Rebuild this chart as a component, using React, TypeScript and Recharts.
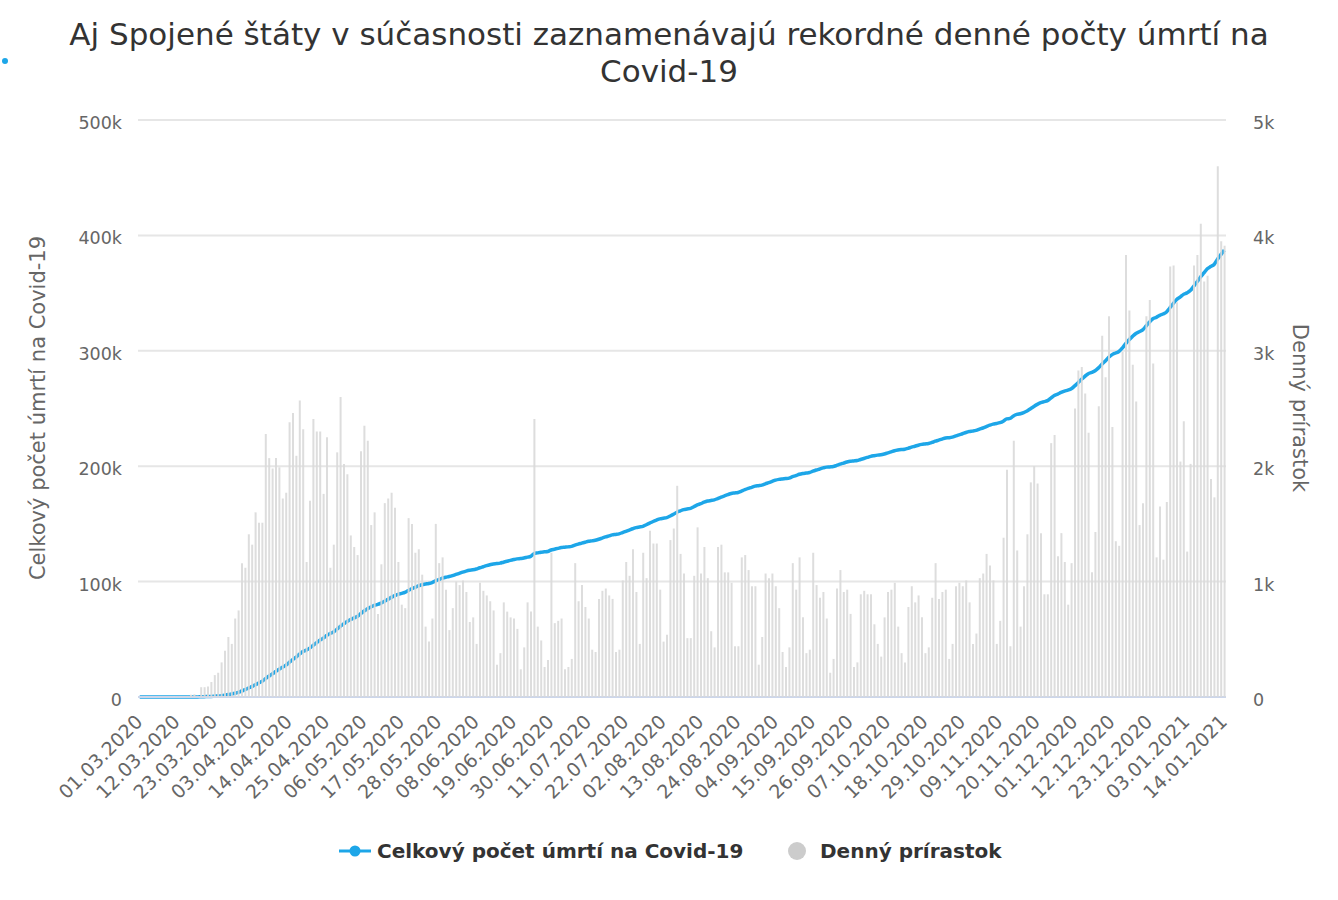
import React from 'react';
import { ComposedChart, Bar, Line, XAxis, YAxis, CartesianGrid } from 'recharts';

// Daily deaths (Denný prírastok), 01.03.2020 – 14.01.2021
const dailyDeaths: number[] = [
  1, 1, 3, 2, 1, 2, 3, 4, 1, 5, 7, 4, 7, 7, 9, 20, 23, 10,
  85, 85, 90, 130, 190, 210, 300, 400, 520, 460, 680, 750,
  1160, 1120, 1410, 1320, 1600, 1510, 1510, 2280, 2070, 1980, 2070, 1990, 1720, 1770,
  2380, 2460, 2090, 2570, 2320, 1170, 1700, 2410, 2300, 2300, 1760, 2250, 1120, 1320,
  2120, 2600, 2020, 1930, 1400, 1300, 1230, 2130, 2350, 2220, 1490, 1600, 720, 1150,
  1680, 1720, 1770, 1640, 1170, 800, 770, 1550, 1500, 1250, 1280, 1060, 610, 480,
  680, 1500, 1160, 1210, 930, 580, 770, 1000, 970, 1010, 910, 650, 690, 460,
  990, 920, 880, 830, 750, 280, 380, 820, 740, 690, 680, 590, 240, 430,
  820, 740, 2410, 610, 490, 260, 320, 1250, 640, 660, 680, 240, 260, 330,
  1160, 830, 970, 780, 680, 410, 390, 850, 920, 940, 880, 850, 390, 410,
  1010, 1170, 1050, 1280, 910, 460, 1250, 1030, 1440, 1330, 1330, 930, 480, 540,
  1360, 1460, 1830, 1240, 1070, 510, 510, 1050, 1470, 1070, 1300, 1030, 570, 430,
  1300, 1320, 1080, 1080, 990, 440, 440, 1210, 1230, 1100, 960, 960, 280, 520,
  1070, 1030, 1070, 960, 770, 390, 260, 430, 1160, 930, 1210, 690, 380, 410,
  1250, 970, 860, 910, 680, 210, 330, 940, 1100, 910, 930, 720, 260, 300,
  890, 920, 890, 890, 630, 460, 350, 690, 910, 930, 990, 610, 380, 300,
  780, 960, 820, 880, 690, 380, 430, 860, 1160, 850, 910, 930, 330, 460,
  960, 990, 960, 1010, 820, 460, 550, 1030, 1070, 1240, 1140, 1010, 460, 660,
  1380, 1970, 440, 2220, 1270, 610, 960, 1410, 1860, 2000, 1850, 1420, 890, 890,
  2200, 2270, 1220, 1420, 1170, 800, 1160, 2500, 2830, 2860, 2630, 2290, 1080, 1430,
  2520, 3130, 2770, 3300, 2340, 1350, 1310, 2990, 3830, 3350, 2880, 2560, 1490, 1680,
  3300, 3440, 2890, 1210, 1650, 1190, 1690, 3730, 3740, 3420, 2040, 2390, 1260, 2020,
  3740, 3830, 4100, 3600, 3650, 1890, 1730, 4600, 3950, 3910,
];

// Cumulative deaths in thousands (Celkový počet úmrtí na Covid-19)
const totalDeathsK: number[] = [
  0, 0, 0, 0, 0, 0, 0, 0, 0, 0, 0, 0, 0.1, 0.1, 0.1, 0.1, 0.1, 0.1,
  0.2, 0.3, 0.4, 0.5, 0.7, 0.9, 1.2, 1.6, 2.1, 2.6, 3.3, 4.0,
  5.2, 6.3, 7.7, 9.0, 10.6, 12.1, 13.6, 15.9, 18.0, 20.0, 22.1, 24.1, 25.8, 27.6,
  30.0, 32.4, 34.5, 37.1, 39.4, 40.6, 42.3, 44.7, 47.0, 49.3, 51.0, 53.3, 55.0, 56.4,
  58.7, 61.3, 63.4, 65.5, 67.2, 68.5, 69.7, 72.2, 74.5, 76.5, 78.0, 79.4, 80.2, 81.3,
  82.9, 84.6, 86.3, 87.8, 89.0, 89.8, 90.7, 92.3, 93.8, 95.0, 96.3, 97.3, 97.9, 98.4,
  99.2, 100.6, 101.8, 103.0, 103.8, 104.4, 105.2, 106.2, 107.2, 108.2, 109.1, 109.8, 110.2, 110.9,
  112.0, 112.9, 113.8, 114.6, 115.3, 115.6, 116.0, 116.8, 117.6, 118.4, 119.1, 119.7, 120.0, 120.4,
  121.2, 121.9, 124.3, 124.9, 125.5, 125.8, 126.1, 127.4, 128.1, 128.8, 129.5, 129.8, 130.1, 130.5,
  131.6, 132.5, 133.3, 134.1, 134.9, 135.3, 135.8, 136.7, 137.7, 138.7, 139.6, 140.5, 140.9, 141.4,
  142.5, 143.6, 144.7, 145.8, 146.8, 147.3, 147.9, 149.3, 150.7, 152.1, 153.3, 154.4, 154.9, 155.4,
  156.8, 158.3, 160.1, 161.3, 162.4, 162.9, 163.4, 164.9, 166.4, 167.5, 168.8, 169.8, 170.3, 170.8,
  172.0, 173.2, 174.3, 175.4, 176.4, 176.8, 177.2, 178.4, 179.6, 180.7, 181.7, 182.7, 183.1, 183.6,
  184.7, 185.7, 186.8, 187.9, 188.6, 189.0, 189.3, 189.7, 190.9, 191.8, 193.0, 193.7, 194.1, 194.5,
  195.7, 196.7, 197.6, 198.5, 199.2, 199.4, 199.7, 200.7, 201.8, 202.7, 203.6, 204.3, 204.6, 204.9,
  205.8, 206.7, 207.6, 208.5, 209.1, 209.6, 209.9, 210.6, 211.5, 212.4, 213.4, 214.0, 214.4, 214.7,
  215.5, 216.5, 217.3, 218.2, 218.9, 219.3, 219.7, 220.6, 221.7, 222.6, 223.5, 224.4, 224.7, 225.2,
  226.2, 227.2, 228.1, 229.2, 230.0, 230.4, 231.0, 232.1, 233.1, 234.3, 235.5, 236.5, 237.0, 237.7,
  239.0, 241.0, 241.4, 243.6, 244.9, 245.5, 246.5, 247.9, 249.8, 251.8, 253.6, 255.0, 255.9, 256.8,
  259.0, 261.3, 262.5, 263.9, 265.1, 265.9, 267.1, 269.6, 272.4, 275.3, 277.9, 280.2, 281.3, 282.7,
  285.2, 288.3, 291.1, 294.4, 296.7, 298.1, 299.4, 302.4, 306.2, 309.6, 312.5, 315.0, 316.5, 318.2,
  321.5, 324.9, 327.8, 329.0, 330.7, 331.9, 333.6, 337.3, 341.0, 344.5, 346.5, 348.9, 350.2, 352.2,
  355.9, 359.8, 363.9, 367.5, 371.1, 373.0, 374.8, 379.4, 383.3, 387.2,
];

const leftTicks: number[] = [0, 100, 200, 300, 400, 500];
const rightTicks: number[] = [0, 1000, 2000, 3000, 4000, 5000];

const TITLE_1 = 'Aj Spojené štáty v súčasnosti zaznamenávajú rekordné denné počty úmrtí na';
const TITLE_2 = 'Covid-19';
const LEFT_TITLE = 'Celkový počet úmrtí na Covid-19';
const RIGHT_TITLE = 'Denný prírastok';

// category labels: one per day starting 01.03.2020
const pad = (n: number) => (n < 10 ? '0' + n : '' + n);
const dates: string[] = dailyDeaths.map((_, i) => {
  const d = new Date(Date.UTC(2020, 2, 1 + i));
  return `${pad(d.getUTCDate())}.${pad(d.getUTCMonth() + 1)}.${d.getUTCFullYear()}`;
});

const data = dates.map((date, i) => ({ date, total: totalDeathsK[i], daily: dailyDeaths[i] }));

const FONT = '"DejaVu Sans", "Lucida Grande", Verdana, sans-serif';
const BLUE = '#1DA6E8';
const GRAY = '#d9d9d9';

const XTick = (props: any) => {
  const { x, y, payload } = props;
  const ax = x + 4;
  const ay = y + 26;
  return (
    <text x={ax} y={ay} transform={`rotate(-45 ${ax} ${ay})`} textAnchor="end" fontSize={19} fill="#666" fontFamily={FONT}>
      {payload.value}
    </text>
  );
};

const LeftTick = (props: any) => {
  const { x, y, payload } = props;
  return (
    <text x={x} y={y + 9} textAnchor="end" fontSize={17.5} fill="#666" fontFamily={FONT}>
      {payload.value === 0 ? '0' : `${payload.value}k`}
    </text>
  );
};

const RightTick = (props: any) => {
  const { x, y, payload } = props;
  return (
    <text x={x} y={y + 9} textAnchor="start" fontSize={17.5} fill="#666" fontFamily={FONT}>
      {payload.value === 0 ? '0' : `${payload.value / 1000}k`}
    </text>
  );
};

export default function App() {
  return (
    <div style={{ position: 'absolute', left: 0, top: 0, width: 1338, height: 900, background: '#fff' }}>
      <ComposedChart
        width={1338}
        height={900}
        data={data}
        margin={{ top: 120, right: 42, bottom: 93, left: 38 }}
        barCategoryGap={0}
      >
        <CartesianGrid vertical={false} stroke="#e6e6e6" strokeWidth={2} yAxisId="left" />
        <XAxis
          dataKey="date"
          interval={10}
          tick={<XTick />}
          tickLine={false}
          tickSize={0}
          tickMargin={0}
          axisLine={{ stroke: '#ccd6eb', strokeWidth: 2 }}
          height={110}
        />
        <YAxis
          yAxisId="left"
          orientation="left"
          domain={[0, 500]}
          ticks={leftTicks}
          width={100}
          axisLine={false}
          tickLine={false}
          tickSize={0}
          tickMargin={16}
          tick={<LeftTick />}
        />
        <YAxis
          yAxisId="right"
          orientation="right"
          domain={[0, 5000]}
          ticks={rightTicks}
          width={70}
          axisLine={false}
          tickLine={false}
          tickSize={0}
          tickMargin={27}
          tick={<RightTick />}
        />
        <Line
          yAxisId="left"
          type="monotone"
          dataKey="total"
          stroke={BLUE}
          strokeWidth={3.5}
          dot={false}
          activeDot={false}
          isAnimationActive={false}
          zIndex={400}
        />
        <Bar
          yAxisId="right"
          dataKey="daily"
          fill={GRAY}
          fillOpacity={0.9}
          barSize={2}
          isAnimationActive={false}
          zIndex={500}
        />
      </ComposedChart>
      <svg width={1338} height={900} style={{ position: 'absolute', left: 0, top: 0, pointerEvents: 'none' }}>
        <circle cx={5} cy={61} r={3} fill={BLUE} />
        <text x={669} y={45} textAnchor="middle" fontSize={31} fill="#333" fontFamily={FONT}>{TITLE_1}</text>
        <text x={669} y={82} textAnchor="middle" fontSize={31} fill="#333" fontFamily={FONT}>{TITLE_2}</text>
        <text x={0} y={0} transform="translate(45 408) rotate(-90)" textAnchor="middle" fontSize={21} fill="#666" fontFamily={FONT}>{LEFT_TITLE}</text>
        <text x={0} y={0} transform="translate(1293 408) rotate(90)" textAnchor="middle" fontSize={21} fill="#666" fontFamily={FONT}>{RIGHT_TITLE}</text>
        <line x1={339} y1={851} x2={371} y2={851} stroke={BLUE} strokeWidth={3} />
        <circle cx={355} cy={851} r={5.5} fill={BLUE} />
        <text x={377} y={858} fontSize={20} fontWeight="bold" fill="#333" fontFamily={FONT}>Celkový počet úmrtí na Covid-19</text>
        <circle cx={797} cy={851} r={9} fill="#cccccc" />
        <text x={820} y={858} fontSize={20} fontWeight="bold" fill="#333" fontFamily={FONT}>Denný prírastok</text>
      </svg>
    </div>
  );
}
